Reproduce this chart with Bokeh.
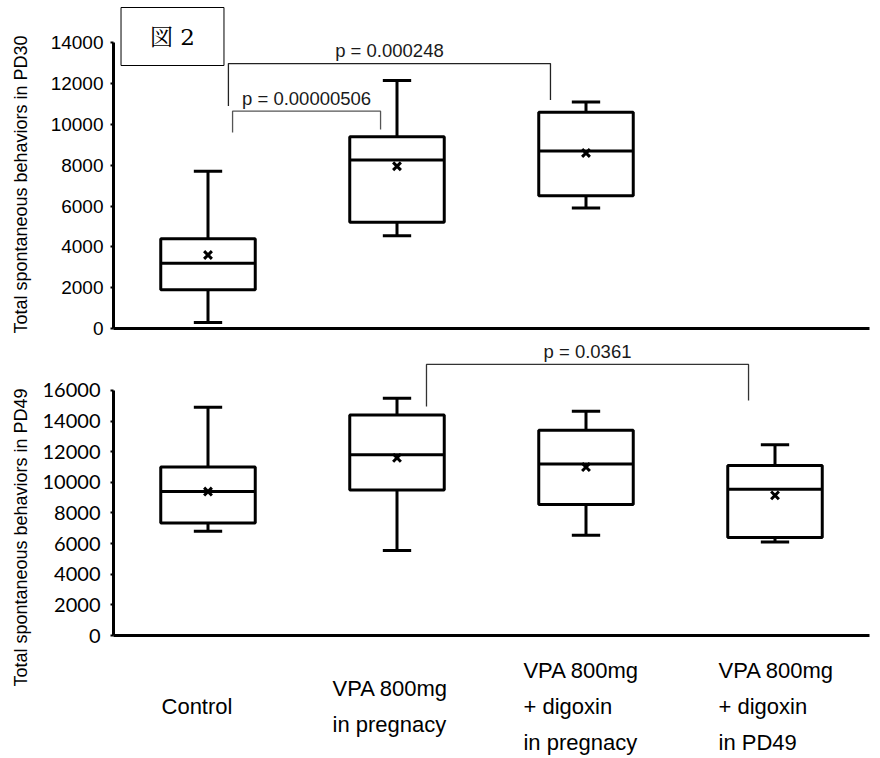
import math
from bokeh.plotting import figure
from bokeh.layouts import column, row
from bokeh.models import FixedTicker, Label, Range1d, ColumnDataSource
from bokeh.core.properties import value
from bokeh.embed import file_html
from bokeh.resources import INLINE

# ---------------- data ----------------
group_labels = ["Control",
                "VPA 800mg\nin pregnacy",
                "VPA 800mg\n+ digoxin\nin pregnacy",
                "VPA 800mg\n+ digoxin\nin PD49"]

y_titles = ["Total spontaneous behaviors in PD30",
            "Total spontaneous behaviors in PD49"]

# Panel A: PD30 (groups 0..2)
pd30_group = [0, 1, 2]
pd30_low = [300, 4550, 5900]
pd30_q1 = [1900, 5200, 6500]
pd30_med = [3200, 8250, 8700]
pd30_q3 = [4400, 9400, 10600]
pd30_high = [7700, 12150, 11100]
pd30_mean = [3600, 7950, 8600]
pd30_ticks = [0, 2000, 4000, 6000, 8000, 10000, 12000, 14000]

# Panel B: PD49 (groups 0..3)
pd49_group = [0, 1, 2, 3]
pd49_low = [6800, 5550, 6550, 6100]
pd49_q1 = [7350, 9500, 8550, 6400]
pd49_med = [9400, 11800, 11200, 9550]
pd49_q3 = [11000, 14400, 13400, 11100]
pd49_high = [14900, 15500, 14650, 12450]
pd49_mean = [9400, 11600, 11000, 9150]
pd49_ticks = [0, 2000, 4000, 6000, 8000, 10000, 12000, 14000, 16000]

# significance brackets
pd30_pair_a = [0, 0]
pd30_pair_b = [1, 2]
pd30_p = ["p = 0.00000506", "p = 0.000248"]
pd30_bracket_y = [10650, 12980]
pd30_foot_a = [9600, 10900]
pd30_foot_b = [9750, 11200]

pd49_pair_a = [1]
pd49_pair_b = [3]
pd49_p = ["p = 0.0361"]
pd49_bracket_y = [17700]
pd49_foot_a = [14950]
pd49_foot_b = [15350]

# ---------------- layout constants ----------------
TITLE_W = 35
FRAME_W = 756
LEFT = 78
RIGHT = 3
BOX_W = 0.5
CAP_W = 0.15
pd30_dx_a = [0.13, 0.108]
pd30_dx_b = [-0.087, -0.188]
pd49_dx_a = [0.156]
pd49_dx_b = [-0.14]
label_left = [0.254, 1.159, 2.169, 3.201]
title_pos_y = [574, 221]

TICK_FONT = "Liberation Sans"


def base_fig(height_frame, y_end, top, bottom):
    p = figure(frame_width=FRAME_W, frame_height=height_frame,
               x_range=Range1d(0, 4), y_range=Range1d(0, y_end),
               min_border_left=LEFT, min_border_right=RIGHT,
               min_border_top=top, min_border_bottom=bottom,
               toolbar_location=None, output_backend="svg")
    p.xgrid.grid_line_color = None
    p.ygrid.grid_line_color = None
    p.outline_line_color = None
    p.xaxis.ticker = FixedTicker(ticks=[])
    p.xaxis.axis_line_width = 3
    p.xaxis.axis_line_color = "black"
    p.xaxis.major_tick_out = 0
    p.xaxis.major_tick_in = 0
    p.xaxis.minor_tick_line_color = None
    p.xaxis.major_label_standoff = 0
    p.xaxis.major_label_text_font_size = "0px"
    p.yaxis.axis_line_width = 3
    p.yaxis.axis_line_color = "black"
    p.yaxis.major_tick_out = 3
    p.yaxis.major_tick_in = 0
    p.yaxis.major_tick_line_width = 2
    p.yaxis.minor_tick_line_color = None
    p.yaxis.major_label_text_color = "black"
    return p


def draw_boxes(p, grp, low, q1, med, q3, high, mean):
    xc = [g + 0.5 for g in grp]
    src = ColumnDataSource(dict(
        x=xc, x0=[x - BOX_W / 2 for x in xc], x1=[x + BOX_W / 2 for x in xc],
        c0=[x - CAP_W / 2 for x in xc], c1=[x + CAP_W / 2 for x in xc],
        low=low, q1=q1, med=med, q3=q3, high=high, mean=mean))
    kw = dict(line_color="black", line_width=3)
    p.segment(x0="x", y0="q3", x1="x", y1="high", source=src, **kw)
    p.segment(x0="x", y0="low", x1="x", y1="q1", source=src, **kw)
    p.segment(x0="c0", y0="high", x1="c1", y1="high", source=src, **kw)
    p.segment(x0="c0", y0="low", x1="c1", y1="low", source=src, **kw)
    p.quad(left="x0", right="x1", bottom="q1", top="q3", source=src,
           fill_color="white", **kw)
    p.segment(x0="x0", y0="med", x1="x1", y1="med", source=src, **kw)
    p.scatter(x="x", y="mean", source=src, marker="x", size=11,
              line_color="black", line_width=3)


def draw_brackets(p, ga, gb, dxa, dxb, by, fa, fb, texts, colors):
    xs, ys, tx = [], [], []
    for i in range(len(ga)):
        xa = ga[i] + 0.5 + dxa[i]
        xb = gb[i] + 0.5 + dxb[i]
        xs.append([xa, xa, xb, xb])
        ys.append([fa[i], by[i], by[i], fb[i]])
        tx.append((xa + xb) / 2)
    p.multi_line(xs=xs, ys=ys, line_color=colors, line_width=1.3)
    p.text(x=tx, y=by, text=texts, y_offset=-13, text_align="center",
           text_baseline="middle", text_font=value("Liberation Sans"),
           text_font_size="18.5px", text_color="#1a1a1a")


# ---------------- top panel (PD30) ----------------
p1 = base_fig(328, 16070, 0, 11)
p1.yaxis.bounds = (0, 14000)
p1.yaxis.ticker = FixedTicker(ticks=pd30_ticks)
p1.yaxis.major_label_text_font = TICK_FONT
p1.yaxis.major_label_text_font_size = "19px"
p1.yaxis.major_label_standoff = 7
draw_boxes(p1, pd30_group, pd30_low, pd30_q1, pd30_med, pd30_q3, pd30_high, pd30_mean)
draw_brackets(p1, pd30_pair_a, pd30_pair_b, pd30_dx_a, pd30_dx_b, pd30_bracket_y,
              pd30_foot_a, pd30_foot_b, pd30_p, ["#555555", "#222222"])
p1.add_layout(Label(x=59, y=292, x_units="screen", y_units="screen",
                    text="図 2", text_align="center", text_baseline="middle",
                    text_font="'DejaVu Serif', 'Noto Serif CJK JP', 'Noto Sans CJK JP'",
                    text_font_size="23px", text_color="black",
                    border_line_color="black", border_line_width=1,
                    background_fill_color="white",
                    padding=dict(left=29, right=29, top=16, bottom=16)))

# ---------------- bottom panel (PD49) ----------------
p2 = base_fig(296, 19330, 0, 10)
p2.yaxis.bounds = (0, 16000)
p2.yaxis.ticker = FixedTicker(ticks=pd49_ticks)
p2.yaxis.major_label_text_font = "Lato"
p2.yaxis.major_label_text_font_size = "20px"
p2.yaxis.major_label_standoff = 10
draw_boxes(p2, pd49_group, pd49_low, pd49_q1, pd49_med, pd49_q3, pd49_high, pd49_mean)
draw_brackets(p2, pd49_pair_a, pd49_pair_b, pd49_dx_a, pd49_dx_b, pd49_bracket_y,
              pd49_foot_a, pd49_foot_b, pd49_p, ["#333333"])

# ---------------- category labels ----------------
p3 = figure(frame_width=FRAME_W, frame_height=113,
            x_range=Range1d(0, 4), y_range=Range1d(0, 113),
            min_border_left=LEFT, min_border_right=RIGHT,
            min_border_top=0, min_border_bottom=0,
            toolbar_location=None, output_backend="svg")
p3.xaxis.visible = False
p3.yaxis.visible = False
p3.xgrid.grid_line_color = None
p3.ygrid.grid_line_color = None
p3.outline_line_color = None
p3.text(x=label_left, y=[52] * len(group_labels), text=group_labels,
        text_align="left", text_baseline="middle", text_line_height=1.44,
        text_font=value("Liberation Sans"), text_font_size="22px",
        text_color="black")

# ---------------- y-axis titles (left strip) ----------------
pt = figure(frame_width=TITLE_W, frame_height=758,
            x_range=Range1d(0, TITLE_W), y_range=Range1d(0, 758),
            min_border_left=0, min_border_right=0,
            min_border_top=0, min_border_bottom=0,
            toolbar_location=None, output_backend="svg")
pt.xaxis.visible = False
pt.yaxis.visible = False
pt.xgrid.grid_line_color = None
pt.ygrid.grid_line_color = None
pt.outline_line_color = None
pt.text(x=[20] * len(y_titles), y=title_pos_y, text=y_titles, angle=math.pi / 2,
        text_align="center", text_baseline="middle",
        text_font=value("Liberation Sans"), text_font_size="18px",
        text_color="black")

layout = row(pt, column(p1, p2, p3, spacing=0), spacing=0)
open("out.html", "w").write(file_html(layout, INLINE))
